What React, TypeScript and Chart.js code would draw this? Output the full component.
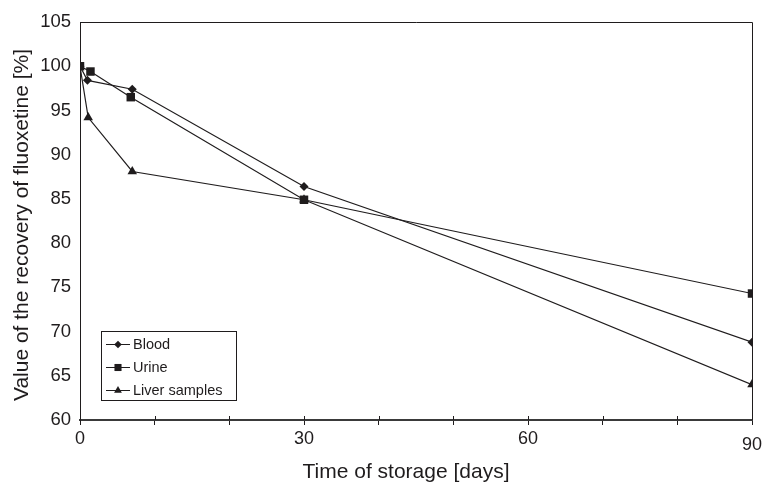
import React, { useEffect, useRef } from 'react';
import { Chart, registerables } from 'chart.js';

Chart.register(...registerables);

// ---- data ----
const seriesNames = ['Blood', 'Urine', 'Liver samples'];
const bloodDays = [0, 1, 7, 30, 90];
const bloodValues = [100, 98.4, 97.4, 86.4, 68.8];
const urineDays = [0, 1.4, 6.8, 30, 90];
const urineValues = [100, 99.4, 96.5, 84.9, 74.3];
const liverDays = [0, 1.1, 7, 30, 90];
const liverValues = [100, 94.2, 88.1, 84.9, 64.0];
const xTickValues = [0, 10, 20, 30, 40, 50, 60, 70, 80, 90];
const xLabelValues = [0, 30, 60, 90];
const yMin = 60;
const yMax = 105;
const yStep = 5;
const xTitle = 'Time of storage [days]';
const yTitle = 'Value of the recovery of fluoxetine [%]';

const INK = '#1f1c1d';
const SANS = "'Liberation Sans', Arial, sans-serif";

function pts(xs: number[], ys: number[]) {
  return xs.map((x, i) => ({ x, y: ys[i] }));
}

function drawMarker(ctx: CanvasRenderingContext2D, style: string, x: number, y: number, r: number) {
  ctx.beginPath();
  if (style === 'rectRot') {
    ctx.moveTo(x, y - r);
    ctx.lineTo(x + r, y);
    ctx.lineTo(x, y + r);
    ctx.lineTo(x - r, y);
  } else if (style === 'rect') {
    const s = r * Math.SQRT1_2;
    ctx.rect(x - s, y - s, 2 * s, 2 * s);
  } else {
    ctx.moveTo(x, y - r);
    ctx.lineTo(x + r * 0.866, y + r * 0.5);
    ctx.lineTo(x - r * 0.866, y + r * 0.5);
  }
  ctx.closePath();
  ctx.fill();
}

const decorPlugin = {
  id: 'decor',
  afterDraw(chart: any) {
    const { ctx, chartArea } = chart;
    const { left, right, top, bottom } = chartArea;
    ctx.save();
    // frame top/right
    ctx.strokeStyle = INK;
    ctx.lineWidth = 1;
    ctx.beginPath();
    ctx.moveTo(left, top + 0.5);
    ctx.lineTo(right + 0.5, top + 0.5);
    ctx.lineTo(right + 0.5, bottom);
    ctx.stroke();
    // inner tick marks on x axis
    const xs = chart.scales.x;
    ctx.beginPath();
    xTickValues.forEach((v) => {
      const px = Math.round(xs.getPixelForValue(v)) + 0.5;
      ctx.moveTo(px, bottom - 4);
      ctx.lineTo(px, bottom);
    });
    ctx.stroke();

    // x tick labels (the last one sits lower, as in the reference)
    ctx.fillStyle = INK;
    ctx.textAlign = 'center';
    ctx.textBaseline = 'middle';
    ctx.font = `18px ${SANS}`;
    xLabelValues.forEach((v, i) => {
      const px = xs.getPixelForValue(v);
      const py = i === xLabelValues.length - 1 ? bottom + 25 : bottom + 19;
      ctx.fillText(String(v), px, py);
    });

    // axis titles
    ctx.font = `21px ${SANS}`;
    ctx.textBaseline = 'alphabetic';
    ctx.fillText(xTitle, 406, 478);
    ctx.save();
    ctx.translate(22, 225);
    ctx.rotate(-Math.PI / 2);
    ctx.textBaseline = 'middle';
    ctx.font = `21px ${SANS}`;
    ctx.fillText(yTitle, 0, 0);
    ctx.restore();

    // legend
    const bx = 101.5, by = 331.5, bw = 135, bh = 69;
    ctx.fillStyle = '#fff';
    ctx.fillRect(bx, by, bw, bh);
    ctx.strokeStyle = INK;
    ctx.lineWidth = 1;
    ctx.strokeRect(bx, by, bw, bh);
    const rows = [344, 367, 390];
    chart.data.datasets.forEach((ds: any, i: number) => {
      const y = rows[i];
      ctx.strokeStyle = INK;
      ctx.beginPath();
      ctx.moveTo(106, y + 0.5);
      ctx.lineTo(130, y + 0.5);
      ctx.stroke();
      ctx.fillStyle = INK;
      const r = ds.pointStyle === 'rect' ? 5 : ds.pointStyle === 'triangle' ? 4.5 : 3.8;
      drawMarker(ctx, ds.pointStyle, 118, y + 0.5, r);
      ctx.font = `14.5px ${SANS}`;
      ctx.textAlign = 'left';
      ctx.textBaseline = 'middle';
      ctx.fillText(ds.label, 133, y + 1);
    });
    ctx.restore();
  },
};

export default function App() {
  const ref = useRef<HTMLCanvasElement>(null);
  useEffect(() => {
    document.body.style.margin = '0';
    const common = {
      showLine: true,
      borderColor: INK,
      backgroundColor: INK,
      borderWidth: 1.2,
      pointBorderWidth: 0,
    };
    const chart = new Chart(ref.current as HTMLCanvasElement, {
      type: 'scatter',
      data: {
        datasets: [
          { ...common, label: seriesNames[0], data: pts(bloodDays, bloodValues), pointStyle: 'rectRot', pointRadius: 4.5 },
          { ...common, label: seriesNames[1], data: pts(urineDays, urineValues), pointStyle: 'rect', pointRadius: 6 },
          { ...common, label: seriesNames[2], data: pts(liverDays, liverValues), pointStyle: 'triangle', pointRadius: 5.5 },
        ],
      },
      options: {
        responsive: false,
        animation: false,
        layout: { padding: { left: 0, top: 22, right: 13, bottom: 0 } },
        plugins: { legend: { display: false }, tooltip: { enabled: false } },
        scales: {
          x: {
            type: 'linear',
            min: 0,
            max: 90,
            afterFit: (s: any) => { s.height = 65; },
            afterBuildTicks: (s: any) => { s.ticks = xTickValues.map((v) => ({ value: v })); },
            ticks: {
              autoSkip: false,
              maxRotation: 0,
              padding: 4,
              color: 'rgba(0,0,0,0)',
              font: { family: SANS, size: 17.5 },
              callback: () => '',
            },
            grid: { drawOnChartArea: false, drawTicks: true, tickLength: 5, color: INK, tickWidth: 1 },
            border: { display: true, color: '#3a3a3a', width: 2 },
          },
          y: {
            min: yMin,
            max: yMax,
            afterFit: (s: any) => { s.width = 80; },
            ticks: {
              stepSize: yStep,
              padding: 9,
              color: INK,
              font: { family: SANS, size: 18.5 },
            },
            grid: { drawOnChartArea: false, drawTicks: false },
            border: { display: true, color: INK, width: 1 },
          },
        },
      },
      plugins: [decorPlugin],
    } as any);
    return () => chart.destroy();
  }, []);
  return (
    <div style={{ width: 765, height: 485, background: '#fff' }}>
      <canvas ref={ref} width={765} height={485} />
    </div>
  );
}
